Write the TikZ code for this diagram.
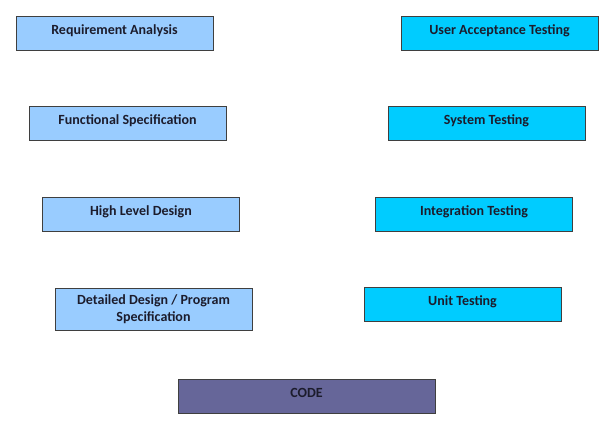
\documentclass[tikz,border=0pt]{standalone}
\usepackage{fontspec}
\setmainfont{Carlito}
\definecolor{lblue}{HTML}{99CCFF}
\definecolor{cyanb}{HTML}{00CCFF}
\definecolor{purp}{HTML}{666699}
\definecolor{edge}{HTML}{3F3F3F}
\definecolor{txt}{HTML}{1C1C2C}
\tikzset{
  box/.style={draw=edge, line width=0.9pt, minimum width=197pt, minimum height=34pt,
    inner sep=0pt, font=\fontsize{14}{17}\selectfont\bfseries, text=txt,
    text height=9pt, text depth=7pt},
  dbox/.style={box, fill=lblue},
  tbox/.style={box, fill=cyanb},
}
\begin{document}
\begin{tikzpicture}[x=1pt,y=-1pt]
\useasboundingbox (0,0) rectangle (612,426);
\node[dbox] (ra) at (114.5,33) {Requirement Analysis};
\node[dbox] (fs) at (127.5,123.5) {Functional Specification};
\node[dbox] (hld) at (141,214.5) {High Level Design};
\node[dbox, minimum height=42pt, align=center, text height=, text depth=] (dd) at (153.5,309) {Detailed Design / Program\\Specification};
\node[box, fill=purp, minimum width=257pt] (code) at (306.5,396) {CODE};
\node[tbox] (uat) at (499.5,33) {User Acceptance Testing};
\node[tbox] (st) at (486.5,123.5) {System Testing};
\node[tbox] (it) at (474,214.5) {Integration Testing};
\node[tbox] (ut) at (462.5,304) {Unit Testing};
\end{tikzpicture}
\end{document}
